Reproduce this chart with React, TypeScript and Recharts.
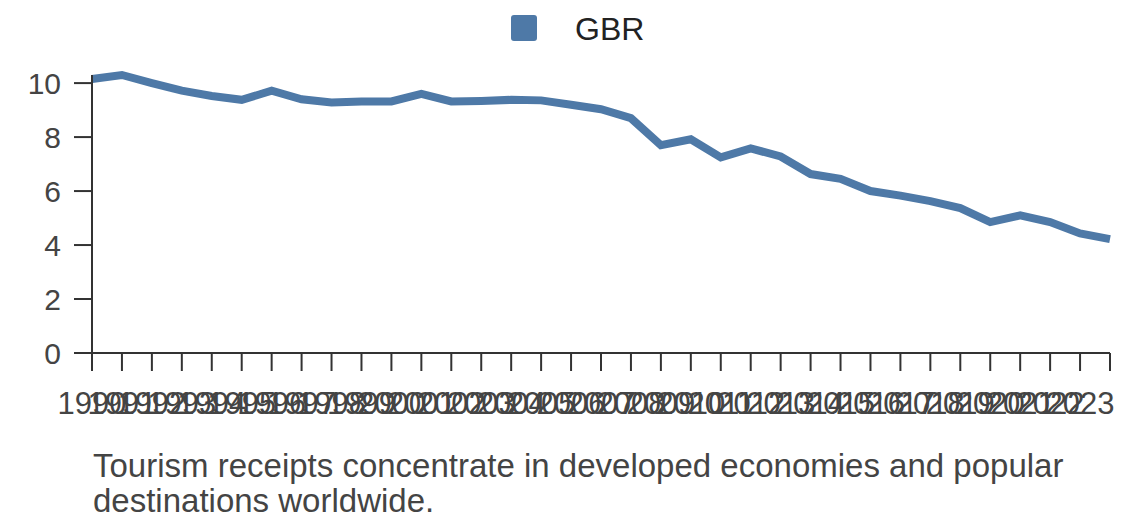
import { Legend, Line, LineChart, XAxis, YAxis } from "recharts";

const years = [
  1990, 1991, 1992, 1993, 1994, 1995, 1996, 1997, 1998, 1999, 2000, 2001,
  2002, 2003, 2004, 2005, 2006, 2007, 2008, 2009, 2010, 2011, 2012, 2013,
  2014, 2015, 2016, 2017, 2018, 2019, 2020, 2021, 2022, 2023, 2024,
];

const gbr = [
  10.15, 10.3, 10.0, 9.72, 9.52, 9.38, 9.72, 9.4, 9.28, 9.32, 9.32, 9.6,
  9.32, 9.34, 9.38, 9.36, 9.2, 9.03, 8.7, 7.7, 7.92, 7.25, 7.58, 7.28,
  6.63, 6.45, 6.0, 5.83, 5.63, 5.37, 4.85, 5.1, 4.85, 4.43, 4.22,
];

const yTicks = [0, 2, 4, 6, 8, 10];

const seriesName = "GBR";
const caption =
  "Tourism receipts concentrate in developed economies and popular destinations worldwide.";

const data = years.map((year, i) => ({ year: String(year), [seriesName]: gbr[i] }));

const FONT = '"Liberation Sans", Arial, sans-serif';
const BLUE = "#4e79a7";
const AXIS = "#333";
const TEXT = "#444";

// the reference leaves the final tick without a label
const YearTick = (props: any) => {
  const { x, y, payload, index } = props;
  if (index === years.length - 1) return null;
  return (
    <text x={x} y={y} dy="0.71em" textAnchor="middle" fill={TEXT} fontSize={31} fontFamily={FONT}>
      {payload.value}
    </text>
  );
};

const LegendContent = (props: any) => {
  const item = props.payload?.[0];
  return (
    <div style={{ position: "relative", height: 65 }}>
      <div
        style={{
          position: "absolute",
          left: 511,
          top: 5,
          width: 26,
          height: 26,
          borderRadius: 3,
          background: item?.color ?? BLUE,
        }}
      />
      <div
        style={{
          position: "absolute",
          left: 575,
          top: 3,
          fontSize: 32,
          lineHeight: "32px",
          color: "#222",
          fontFamily: FONT,
          whiteSpace: "nowrap",
        }}
      >
        {item?.value}
      </div>
    </div>
  );
};

export default function App() {
  return (
    <div style={{ position: "relative", width: 1140, height: 528, fontFamily: FONT }}>
      <style>{`body { margin: 0; }`}</style>
      <LineChart
        width={1140}
        height={430}
        data={data}
        margin={{ top: 10, right: 30, bottom: 0, left: 0 }}
      >
        <Legend verticalAlign="top" content={<LegendContent />} />
        <XAxis
          dataKey="year"
          interval={0}
          height={77}
          tickSize={18}
          tickMargin={21}
          stroke={AXIS}
          strokeWidth={2}
          tick={<YearTick />}
        />
        <YAxis
          type="number"
          domain={[0, "dataMax"]}
          ticks={yTicks}
          interval={0}
          width={92}
          tickSize={18}
          tickMargin={13}
          stroke={AXIS}
          strokeWidth={2}
          tick={{ fill: TEXT, fontSize: 30, fontFamily: FONT }}
        />
        <Line
          type="linear"
          dataKey={seriesName}
          name={seriesName}
          stroke={BLUE}
          strokeWidth={8}
          dot={false}
          isAnimationActive={false}
        />
      </LineChart>
      <div
        style={{
          position: "absolute",
          left: 93,
          top: 448,
          width: 1040,
          fontSize: 33,
          lineHeight: "35px",
          color: TEXT,
        }}
      >
        {caption}
      </div>
    </div>
  );
}
